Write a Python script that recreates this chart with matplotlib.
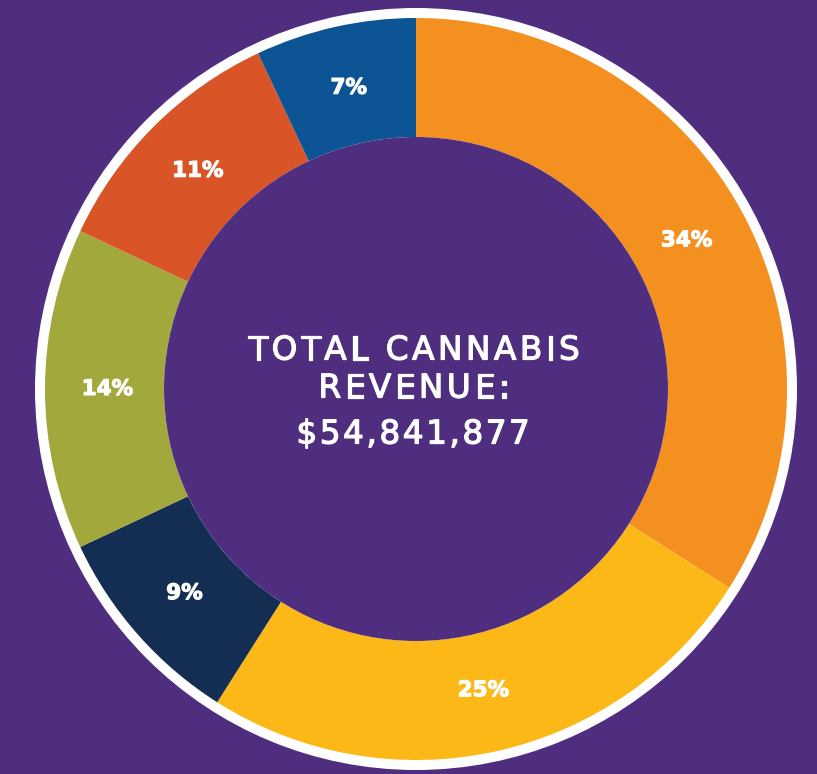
import matplotlib.pyplot as plt
import matplotlib.patheffects as pe
from matplotlib.patches import Circle
from matplotlib.font_manager import FontProperties

# revenue share by segment, clockwise from 12 o'clock
shares = [34, 25, 9, 14, 11, 7]
labels = ['34%', '25%', '9%', '14%', '11%', '7%']
colors = ['#F39020', '#FBB817', '#142D52', '#A2A83B', '#D95427', '#0D5495']

title_lines = ['TOTAL CANNABIS', 'REVENUE:']
total = '$54,841,877'

bg = '#4F2D7F'

fig = plt.figure(figsize=(8.17, 7.74), dpi=100, facecolor=bg)
ax = fig.add_axes([0, 0, 1, 1])
ax.set_facecolor(bg)

cx, cy = 416, 385
R = 371

# white rim around the ring
ax.add_patch(Circle((cx, cy), R + 10, facecolor='white', edgecolor='none', zorder=0))

wedges, texts = ax.pie(shares, colors=colors, startangle=90, counterclock=False,
                       radius=R, center=(cx, cy), labels=labels, labeldistance=0.832,
                       wedgeprops=dict(width=R - 252, edgecolor='none', linewidth=0),
                       textprops=dict(color='white', fontsize=15.5, fontweight='bold',
                                      family='DejaVu Sans', ha='center', va='center'),
                       frame=True)
for t in texts:
    t.set_path_effects([pe.withStroke(linewidth=0.8, foreground='white')])
ax.set_xlim(0, 817)
ax.set_ylim(0, 774)
ax.set_aspect('equal')
ax.axis('off')

# hole fill
ax.add_patch(Circle((cx, cy), 252, facecolor=bg, edgecolor='none', zorder=3))

renderer = fig.canvas.get_renderer()
prop = FontProperties(family='DejaVu Sans', size=23.5)
heavier = [pe.withStroke(linewidth=0.9, foreground='white')]


def spaced_text(x, y, s, track):
    # letter-spaced line, centred on x (pixel units == data units here)
    widths = [renderer.get_text_width_height_descent(c, prop, ismath=False)[0] for c in s]
    full = sum(widths) + track * (len(s) - 1)
    pos = x - full / 2
    for c, w in zip(s, widths):
        ax.text(pos, y, c, fontproperties=prop, color='white',
                ha='left', va='center', zorder=4, path_effects=heavier)
        pos += w + track


spaced_text(cx - 2, 774 - 350, title_lines[0], 3.5)
spaced_text(cx - 2, 774 - 388, title_lines[1], 3.5)
spaced_text(cx - 3, 774 - 434, total, 2.5)

fig.savefig('out.png', dpi=100, facecolor=bg)
